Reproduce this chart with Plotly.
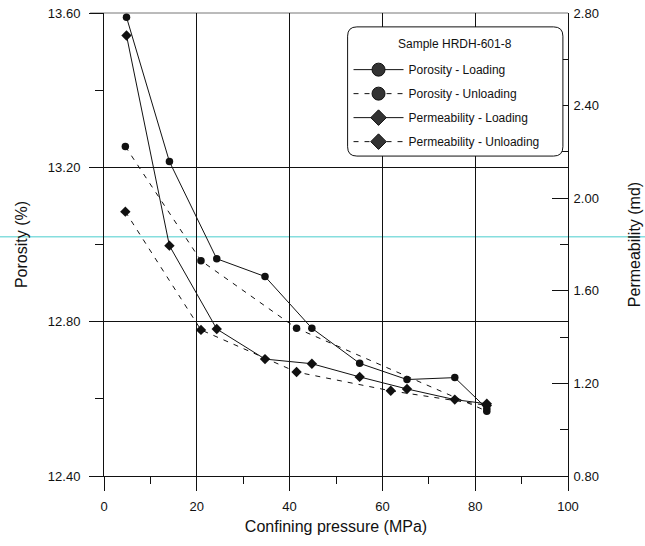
import plotly.graph_objects as go

# ---- data ----
p_load = [4.85, 14.1, 24.3, 34.7, 44.8, 55.1, 65.3, 75.6, 82.5]
por_load = [13.589, 13.215, 12.963, 12.917, 12.783, 12.692, 12.650, 12.655, 12.575]
p_por_unload = [4.6, 20.9, 41.5, 82.5]
por_unload = [13.254, 12.958, 12.783, 12.568]
perm_load = [2.703, 1.795, 1.435, 1.305, 1.285, 1.228, 1.176, 1.130, 1.112]
p_perm_unload = [4.6, 20.9, 41.5, 61.8, 82.5]
perm_unload = [1.942, 1.431, 1.249, 1.168, 1.105]

legend_title = "Sample HRDH-601-8"
names = ["Porosity - Loading", "Porosity - Unloading",
         "Permeability - Loading", "Permeability - Unloading"]

FONT = "Arial, Liberation Sans, sans-serif"
BLACK = "#111111"
DASH = "5px,6px"

fig = go.Figure()

# data traces
fig.add_trace(go.Scatter(x=p_load, y=por_load, mode="lines+markers", yaxis="y",
                         line=dict(color=BLACK, width=1),
                         marker=dict(symbol="circle", size=7.5, color=BLACK),
                         showlegend=False))
fig.add_trace(go.Scatter(x=p_por_unload, y=por_unload, mode="lines+markers", yaxis="y",
                         line=dict(color=BLACK, width=1, dash=DASH),
                         marker=dict(symbol="circle", size=7.5, color=BLACK),
                         showlegend=False))
fig.add_trace(go.Scatter(x=p_load, y=perm_load, mode="lines+markers", yaxis="y2",
                         line=dict(color=BLACK, width=1),
                         marker=dict(symbol="diamond", size=8, color=BLACK),
                         showlegend=False))
fig.add_trace(go.Scatter(x=p_perm_unload, y=perm_unload, mode="lines+markers", yaxis="y2",
                         line=dict(color=BLACK, width=1, dash=DASH),
                         marker=dict(symbol="diamond", size=8, color=BLACK),
                         showlegend=False))

# legend-only entries (larger symbols, like the reference legend)
leg_specs = [("circle", 13, None), ("circle", 13, DASH),
             ("diamond", 12, None), ("diamond", 12, DASH)]
for i, (nm, (sym, sz, dash)) in enumerate(zip(names, leg_specs)):
    fig.add_trace(go.Scatter(x=[None], y=[None], mode="lines+markers", name=nm,
                             legendgroup=f"g{i}",
                             line=dict(color=BLACK, width=1, dash=dash),
                             marker=dict(symbol=sym, size=sz, color="#333333",
                                         line=dict(color=BLACK, width=1))))

axis_font = dict(family=FONT, size=13, color=BLACK)
title_font = dict(family=FONT, size=16, color=BLACK)

fig.update_layout(
    width=645, height=546,
    margin=dict(l=104, r=77, t=13, b=70),
    paper_bgcolor="white", plot_bgcolor="rgba(0,0,0,0)",
    font=dict(family=FONT, color=BLACK),
    xaxis=dict(range=[0, 100], dtick=20, tick0=0,
               showline=True, linecolor=BLACK, linewidth=1,
               showgrid=True, gridcolor=BLACK, gridwidth=1, zeroline=False,
               ticks="outside", ticklen=14, tickcolor=BLACK, ticklabelstandoff=4,
               minor=dict(dtick=10, ticks="outside", ticklen=7, tickcolor=BLACK, showgrid=False),
               tickfont=axis_font,
               title=dict(text="Confining pressure (MPa)", font=title_font, standoff=8),
               automargin=False),
    yaxis=dict(range=[12.40, 13.60], dtick=0.4, tick0=12.40, tickformat=".2f",
               showline=True, linecolor=BLACK, linewidth=1,
               showgrid=True, gridcolor=BLACK, gridwidth=1, zeroline=False,
               ticks="outside", ticklen=14, tickcolor=BLACK, ticklabelstandoff=6,
               minor=dict(dtick=0.2, ticks="outside", ticklen=8, tickcolor=BLACK, showgrid=False),
               tickfont=axis_font,
               title=dict(text="Porosity (%)", font=title_font, standoff=16),
               automargin=False),
    yaxis2=dict(range=[0.80, 2.80], dtick=0.4, tick0=0.80, tickformat=".2f",
                overlaying="y", side="right",
                showline=True, linecolor=BLACK, linewidth=1,
                showgrid=False, zeroline=False,
                ticks="inside", ticklen=16, tickcolor=BLACK, ticklabelstandoff=2,
                minor=dict(dtick=0.2, ticks="inside", ticklen=8, tickcolor=BLACK, showgrid=False),
                tickfont=axis_font,
                title=dict(text="Permeability (md)", font=title_font, standoff=30),
                automargin=False),
    legend=dict(x=0.527, y=0.909, xanchor="left", yanchor="top",
                bgcolor="rgba(0,0,0,0)", borderwidth=0,
                font=dict(family=FONT, size=12, color=BLACK),
                traceorder="grouped", tracegroupgap=5, itemwidth=50),
)

# legend title as annotation, centred over the frame
fig.add_annotation(text=legend_title, xref="paper", yref="paper", x=0.757, y=0.934,
                   xanchor="center", yanchor="middle", showarrow=False,
                   font=dict(family=FONT, size=12, color=BLACK))

# rounded legend frame (paper coords)
x0, x1, y0, y1 = 0.525, 0.989, 0.691, 0.970
r = 0.02
path = (f"M {x0+r},{y1} L {x1-r},{y1} Q {x1},{y1} {x1},{y1-r} "
        f"L {x1},{y0+r} Q {x1},{y0} {x1-r},{y0} L {x0+r},{y0} "
        f"Q {x0},{y0} {x0},{y0+r} L {x0},{y1-r} Q {x0},{y1} {x0+r},{y1} Z")
fig.add_shape(type="path", path=path, xref="paper", yref="paper",
              fillcolor="white", line=dict(color=BLACK, width=1), layer="above")

# faint top frame line
fig.add_shape(type="line", xref="paper", yref="paper", x0=-0.03, x1=1.0, y0=1, y1=1,
              line=dict(color="#777777", width=1), layer="below")

# cyan scan line artifact across the image
fig.add_shape(type="line", xref="paper", yref="paper", x0=-0.23, x1=1.17,
              y0=0.5165, y1=0.5165, line=dict(color="#86dede", width=1.5), layer="below")

fig.write_html("out.html")
